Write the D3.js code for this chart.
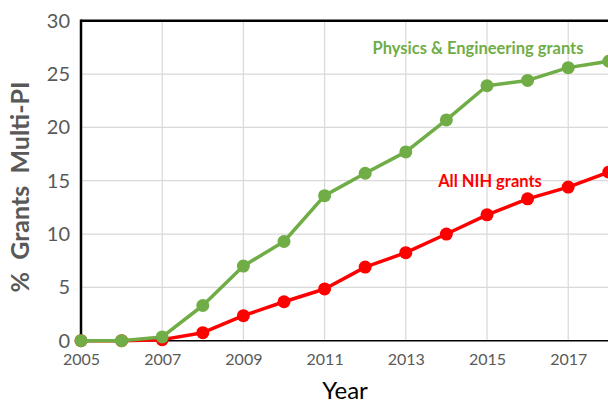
<!DOCTYPE html>
<html><head><meta charset="utf-8">
<script src="https://cdn.jsdelivr.net/npm/d3@7"></script>
<style>body{margin:0;background:#fff}svg{display:block;font-family:Lato,"Open Sans",sans-serif}</style>
</head><body><svg id="c" width="608" height="403"></svg>
<script>
const years = [2005,2006,2007,2008,2009,2010,2011,2012,2013,2014,2015,2016,2017,2018];
const physEng = [0,0,0.35,3.3,7.0,9.3,13.6,15.7,17.7,20.7,23.9,24.4,25.6,26.2];
const allNih = [0,0,0.1,0.75,2.35,3.65,4.85,6.9,8.25,10.0,11.8,13.3,14.4,15.8];
const xTicks = [2005,2007,2009,2011,2013,2015,2017];
const yTicks = [0,5,10,15,20,25,30];
const seriesNames = ["Physics & Engineering grants","All NIH grants"];

const svg = d3.select("#c");
const x = d3.scaleLinear().domain([2005,2018]).range([81,608.8]);
const y = d3.scaleLinear().domain([0,30]).range([340.7,20.7]);

// gridlines
svg.append("g").selectAll("line").data(yTicks.filter(d=>d>0)).join("line")
  .attr("x1",81).attr("x2",640).attr("y1",d=>y(d)).attr("y2",d=>y(d))
  .attr("stroke","#d9d9d9").attr("stroke-width",1.2);
svg.append("g").selectAll("line").data(xTicks.filter(d=>d>2005)).join("line")
  .attr("x1",d=>x(d)).attr("x2",d=>x(d)).attr("y1",y(30)).attr("y2",y(0))
  .attr("stroke","#d9d9d9").attr("stroke-width",1.2);

// frame
svg.append("line").attr("x1",81).attr("x2",640).attr("y1",y(30)).attr("y2",y(30)).attr("stroke","#000").attr("stroke-width",2.5);
svg.append("line").attr("x1",81).attr("x2",81).attr("y1",y(30)-1.2).attr("y2",y(0)).attr("stroke","#000").attr("stroke-width",2.5);
svg.append("line").attr("x1",81).attr("x2",640).attr("y1",y(0)).attr("y2",y(0)).attr("stroke","#000").attr("stroke-width",1.5);

// axes labels
const yAxis = d3.axisLeft(y).tickValues(yTicks).tickSize(0).tickPadding(11);
const gy = svg.append("g").attr("transform","translate(81,0)").call(yAxis);
gy.select(".domain").remove();
gy.selectAll("text").attr("font-size",20).attr("fill","#595959").attr("font-family","Lato,'Open Sans',sans-serif");

const xAxis = d3.axisBottom(x).tickValues(xTicks).tickSize(0).tickPadding(13).tickFormat(d3.format("d"));
const gx = svg.append("g").attr("transform",`translate(0,${y(0)})`).call(xAxis);
gx.select(".domain").remove();
gx.selectAll("text").attr("font-size",16).attr("fill","#595959").attr("font-family","Lato,'Open Sans',sans-serif");

svg.append("text").attr("x",345).attr("y",399).attr("text-anchor","middle")
  .attr("font-size",24).attr("fill","#000").text("Year");
svg.append("text").attr("transform","translate(29,187) rotate(-90)").attr("text-anchor","middle")
  .attr("font-size",25).attr("font-weight","bold").attr("fill","#595959")
  .style("white-space","pre").text("%  Grants  Multi-PI");

// series
const data = [
  {name: seriesNames[1], vals: allNih, color:"#ff0000"},
  {name: seriesNames[0], vals: physEng, color:"#70ad47"}
];
const line = d3.line().x((d,i)=>x(years[i])).y(d=>y(d));
data.forEach(s=>{
  svg.append("path").datum(s.vals).attr("d",line).attr("fill","none")
    .attr("stroke",s.color).attr("stroke-width",3.5).attr("stroke-linejoin","round");
  svg.append("g").selectAll("circle").data(s.vals).join("circle")
    .attr("cx",(d,i)=>x(years[i])).attr("cy",d=>y(d)).attr("r",6.5).attr("fill",s.color);
});

svg.append("text").attr("x",478).attr("y",54).attr("text-anchor","middle")
  .attr("font-size",16.5).attr("font-weight","bold").attr("fill","#70ad47").text(seriesNames[0]);
svg.append("text").attr("x",490).attr("y",187).attr("text-anchor","middle")
  .attr("font-size",16.5).attr("font-weight","bold").attr("fill","#ff0000").text(seriesNames[1]);
</script></body></html>
